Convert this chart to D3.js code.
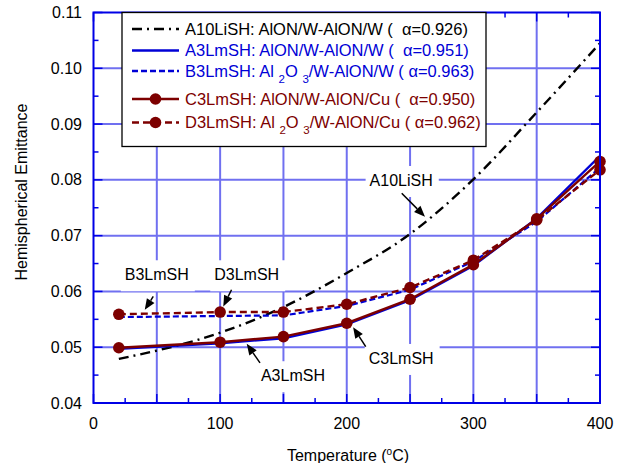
<!DOCTYPE html>
<html lang="en">
    <head>
        <meta charset="utf-8">
        <title>Hemispherical Emittance</title>
        <script type="text/javascript" src="https://cdn.jsdelivr.net/npm/d3@7"></script>
        <style>
            body { margin: 0; background: white; }
            svg text { font-family: "Liberation Sans", Arial, sans-serif; }
        </style>
    </head>
    <body>
        <script type="text/javascript">

            // ------------ data ------------
            var temps = [20, 100, 150, 200, 250, 300, 350, 400];

            var a10LiSH = [0.0479, 0.0526, 0.0572, 0.0633, 0.0703, 0.0801, 0.0921, 0.1045];
            var a3LmSH  = [0.0497, 0.0507, 0.0516, 0.0541, 0.0584, 0.0646, 0.0731, 0.0843];
            var b3LmSH  = [0.0554, 0.0556, 0.0557, 0.0574, 0.0603, 0.0654, 0.0725, 0.0822];
            var c3LmSH  = [0.0499, 0.0509, 0.0519, 0.0543, 0.0586, 0.0648, 0.0730, 0.0833];
            var d3LmSH  = [0.0559, 0.0563, 0.0563, 0.0577, 0.0607, 0.0656, 0.0728, 0.0818];

            var xTickLabels = [0, 100, 200, 300, 400];
            var yTickLabels = [0.04, 0.05, 0.06, 0.07, 0.08, 0.09, 0.10, 0.11];

            var blue = "#0000d6";
            var red = "#7d0000";
            var fs = "16px";

            // series styles (drawn in this order)
            var series = [
                { name: "A10LiSH", values: a10LiSH, color: "black", dash: "10,5,2,5", width: 2.4, marker: false, smooth: true },
                { name: "B3LmSH", values: b3LmSH, color: blue, dash: "6,3", width: 2.2, marker: false },
                { name: "A3LmSH", values: a3LmSH, color: blue, dash: null, width: 2.2, marker: false },
                { name: "D3LmSH", values: d3LmSH, color: red, dash: "7,4", width: 2.4, marker: true },
                { name: "C3LmSH", values: c3LmSH, color: red, dash: null, width: 2.4, marker: true }
            ];

            var w = 623;
            var h = 463;
            var pl = 93.5, pr = 600, pt = 12.5, pb = 403;

            var svg = d3.select("body").append("svg").attr("width", w).attr("height", h);

            var xScale = d3.scaleLinear().domain([0, 400]).range([pl, pr]);
            var yScale = d3.scaleLinear().domain([0.04, 0.11]).range([pb, pt]);

            // grid lines
            var grid = svg.append("g").attr("stroke", "#7070f0").attr("stroke-width", 2);
            grid.selectAll("line.vx").data(d3.range(50, 400, 50)).enter().append("line")
                .attr("x1", function(d) { return xScale(d); })
                .attr("x2", function(d) { return xScale(d); })
                .attr("y1", pt).attr("y2", pb);
            grid.selectAll("line.hy").data(d3.range(5, 11).map(function(d) { return d / 100; })).enter().append("line")
                .attr("x1", pl).attr("x2", pr)
                .attr("y1", function(d) { return yScale(d); })
                .attr("y2", function(d) { return yScale(d); });

            // annotations in data units: label position, arrow tail, arrow tip
            var notes = [
                { text: "B3LmSH", x: 50, y: 0.0620, x1: 47.2, y1: 0.0591, x2: 40.5, y2: 0.0567 },
                { text: "D3LmSH", x: 121, y: 0.0620, x1: 109, y1: 0.0603, x2: 102.5, y2: 0.0573 },
                { text: "A3LmSH", x: 157.5, y: 0.0439, x1: 131.5, y1: 0.0472, x2: 121, y2: 0.0506 },
                { text: "C3LmSH", x: 243, y: 0.0470, x1: 215, y1: 0.0501, x2: 205, y2: 0.0536 },
                { text: "A10LiSH", x: 243, y: 0.0789, x1: 243.4, y1: 0.0776, x2: 261.8, y2: 0.0734 }
            ];

            var noteBg = svg.append("g");

            // the curves
            var lineGen = d3.line()
                .x(function(d, i) { return xScale(temps[i]); })
                .y(function(d) { return yScale(d); });

            series.forEach(function(s) {
                svg.append("path")
                    .attr("d", lineGen.curve(s.smooth ? d3.curveMonotoneX : d3.curveLinear)(s.values))
                    .attr("fill", "none")
                    .attr("stroke", s.color)
                    .attr("stroke-width", s.width)
                    .attr("stroke-dasharray", s.dash);
                if (s.marker) {
                    svg.append("g").selectAll("circle").data(s.values).enter().append("circle")
                        .attr("cx", function(d, i) { return xScale(temps[i]); })
                        .attr("cy", function(d) { return yScale(d); })
                        .attr("r", 5.8)
                        .attr("fill", s.color);
                }
            });

            // frame with inward ticks on all four sides
            var frame = svg.append("g").attr("stroke", "#0000e6");
            frame.append("rect")
                .attr("x", pl).attr("y", pt)
                .attr("width", pr - pl).attr("height", pb - pt)
                .attr("fill", "none").attr("stroke-width", 2);

            var xt = d3.range(0, 401, 25);
            frame.selectAll("line.xb").data(xt).enter().append("line")
                .attr("x1", function(d) { return xScale(d); }).attr("x2", function(d) { return xScale(d); })
                .attr("y1", pb).attr("y2", function(d) { return pb - (d % 50 === 0 ? 9 : 5); })
                .attr("stroke-width", 1.5);
            frame.selectAll("line.xt").data(xt).enter().append("line")
                .attr("x1", function(d) { return xScale(d); }).attr("x2", function(d) { return xScale(d); })
                .attr("y1", pt).attr("y2", function(d) { return pt + (d % 50 === 0 ? 9 : 5); })
                .attr("stroke-width", 1.5);
            var yt = d3.range(80, 221, 10).map(function(d) { return d / 2000; });
            frame.selectAll("line.yl").data(yt).enter().append("line")
                .attr("y1", function(d) { return yScale(d); }).attr("y2", function(d) { return yScale(d); })
                .attr("x1", pl).attr("x2", function(d, i) { return pl + (i % 2 === 0 ? 9 : 5); })
                .attr("stroke-width", 1.5);
            frame.selectAll("line.yr").data(yt).enter().append("line")
                .attr("y1", function(d) { return yScale(d); }).attr("y2", function(d) { return yScale(d); })
                .attr("x1", pr).attr("x2", function(d, i) { return pr - (i % 2 === 0 ? 9 : 5); })
                .attr("stroke-width", 1.5);

            // tick labels
            svg.append("g").selectAll("text").data(xTickLabels).enter().append("text")
                .attr("x", function(d) { return xScale(d); })
                .attr("y", 429)
                .attr("text-anchor", "middle")
                .attr("font-size", fs)
                .text(function(d) { return d; });
            svg.append("g").selectAll("text").data(yTickLabels).enter().append("text")
                .attr("x", 82)
                .attr("y", function(d) { return yScale(d) + 5.5; })
                .attr("text-anchor", "end")
                .attr("font-size", fs)
                .text(function(d) { return d.toFixed(2); });

            // axis titles
            var xTitle = svg.append("text")
                .attr("x", 348).attr("y", 461)
                .attr("text-anchor", "middle")
                .attr("font-size", fs);
            xTitle.append("tspan").text("Temperature (");
            xTitle.append("tspan").attr("font-size", "10px").attr("dy", -6).text("o");
            xTitle.append("tspan").attr("dy", 6).text("C)");

            svg.append("text")
                .attr("transform", "translate(27,192) rotate(-90)")
                .attr("text-anchor", "middle")
                .attr("font-size", fs)
                .text("Hemispherical Emittance");

            // annotation labels, their white boxes, arrows
            notes.forEach(function(n) {
                var t = svg.append("text")
                    .attr("x", xScale(n.x)).attr("y", yScale(n.y))
                    .attr("text-anchor", "middle")
                    .attr("font-size", fs)
                    .text(n.text);
                var bb = t.node().getBBox();
                noteBg.append("rect")
                    .attr("x", bb.x - 4).attr("y", bb.y - 6)
                    .attr("width", bb.width + 10).attr("height", bb.height + 14)
                    .attr("fill", "white");

                var x1 = xScale(n.x1), y1 = yScale(n.y1), x2 = xScale(n.x2), y2 = yScale(n.y2);
                var ang = Math.atan2(y2 - y1, x2 - x1);
                var hl = 11, hw = 4.5;
                var bx = x2 - hl * Math.cos(ang), by = y2 - hl * Math.sin(ang);
                svg.append("line")
                    .attr("x1", x1).attr("y1", y1).attr("x2", bx).attr("y2", by)
                    .attr("stroke", "black").attr("stroke-width", 1.5);
                svg.append("path")
                    .attr("d", "M" + x2 + "," + y2 +
                        "L" + (bx + hw * Math.sin(ang)) + "," + (by - hw * Math.cos(ang)) +
                        "L" + (bx - hw * Math.sin(ang)) + "," + (by + hw * Math.cos(ang)) + "Z")
                    .attr("fill", "black");
            });

            // ------------ legend ------------
            var legendRows = [
                { color: "black", dash: "10,5,2,5", marker: false, parts: [["A10LiSH: AlON/W-AlON/W (  α=0.926)"]], y: 29 },
                { color: blue, dash: null, marker: false, parts: [["A3LmSH: AlON/W-AlON/W (  α=0.951)"]], y: 50.5 },
                { color: blue, dash: "6,3", marker: false, parts: [["B3LmSH: Al "], ["2", "sub"], ["O "], ["3", "sub"], ["/W-AlON/W ( α=0.963)"]], y: 71 },
                { color: red, dash: null, marker: true, parts: [["C3LmSH: AlON/W-AlON/Cu (  α=0.950)"]], y: 99 },
                { color: red, dash: "7,4", marker: true, parts: [["D3LmSH: Al "], ["2", "sub"], ["O "], ["3", "sub"], ["/W-AlON/Cu ( α=0.962)"]], y: 122.5 }
            ];

            var legend = svg.append("g");
            legend.append("rect")
                .attr("x", 122).attr("y", pt)
                .attr("width", 364).attr("height", 134)
                .attr("fill", "white").attr("stroke", "black").attr("stroke-width", 1.3);

            legendRows.forEach(function(r) {
                legend.append("line")
                    .attr("x1", 132).attr("x2", 179)
                    .attr("y1", r.y).attr("y2", r.y)
                    .attr("stroke", r.color)
                    .attr("stroke-width", 2.4)
                    .attr("stroke-dasharray", r.dash);
                if (r.marker) {
                    legend.append("circle").attr("cx", 155.5).attr("cy", r.y).attr("r", 5.8).attr("fill", r.color);
                }
                var t = legend.append("text")
                    .attr("x", 185).attr("y", r.y + 5.5)
                    .attr("font-size", "16.5px")
                    .attr("fill", r.color)
                    .attr("xml:space", "preserve");
                var shifted = false;
                r.parts.forEach(function(p) {
                    var ts = t.append("tspan").text(p[0]);
                    if (p[1] === "sub") {
                        ts.attr("font-size", "11.5px").attr("dy", 6);
                        shifted = true;
                    } else if (shifted) {
                        ts.attr("dy", -6);
                        shifted = false;
                    }
                });
            });

        </script>
    </body>
</html>
